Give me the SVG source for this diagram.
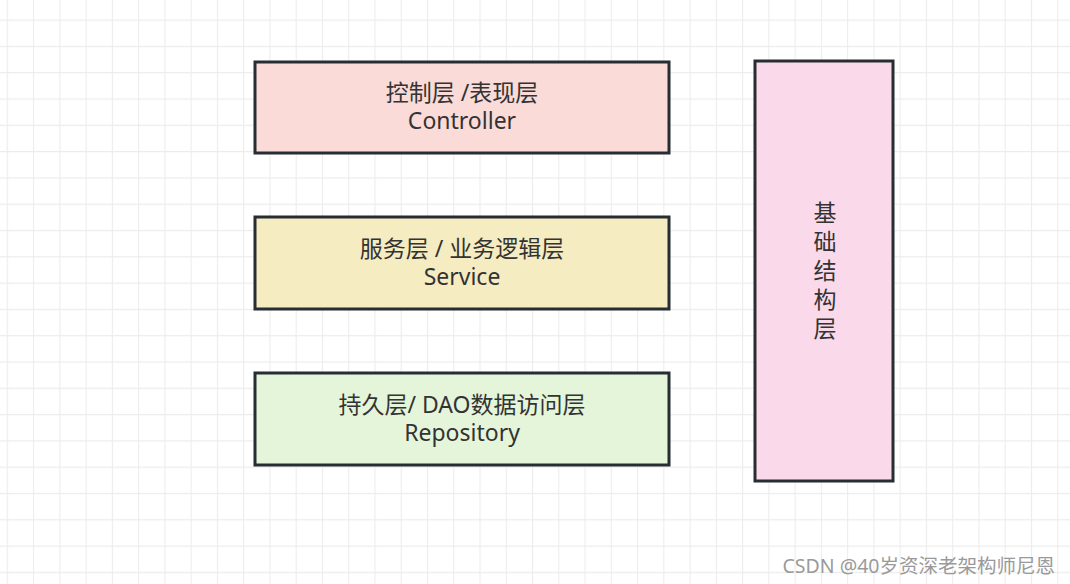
<svg xmlns="http://www.w3.org/2000/svg" width="1070" height="584" viewBox="0 0 1070 584">
<defs>
<pattern id="grid" patternUnits="userSpaceOnUse" x="6.8" y="19.5" width="26.26" height="26.3">
<path d="M0.5 0 V26.3 M0 0.5 H26.26" fill="none" stroke="#ececec" stroke-width="1.2"/>
</pattern>
</defs>
<style>
.box{stroke:#262d33;stroke-width:3;}
.lbl{font-family:"Noto Sans","Noto Sans CJK SC",sans-serif;font-size:23px;fill:#333333;text-anchor:middle;}
.wm{font-family:"Noto Sans","Noto Sans CJK SC",sans-serif;font-size:19.5px;fill:#9a9a9a;text-anchor:end;}
</style>
<rect width="1070" height="584" fill="#ffffff"/>
<rect width="1070" height="584" fill="url(#grid)"/>
<g id="controller">
<rect class="box" x="255" y="62" width="414" height="91" fill="#fadbd8"/>
<text class="lbl" x="462" y="101">控制层 /表现层</text>
<text class="lbl" x="462" y="129">Controller</text>
</g>
<g id="service">
<rect class="box" x="255" y="217" width="414" height="92" fill="#f6ecc1"/>
<text class="lbl" x="462" y="257">服务层 / 业务逻辑层</text>
<text class="lbl" x="462" y="285">Service</text>
</g>
<g id="repository">
<rect class="box" x="255" y="373" width="414" height="92" fill="#e4f5da"/>
<text class="lbl" x="462" y="413">持久层/ DAO数据访问层</text>
<text class="lbl" x="462" y="441">Repository</text>
</g>
<g id="infrastructure">
<rect class="box" x="755" y="61" width="138" height="420" fill="#fadaea"/>
<text class="lbl" x="825" y="221">基</text>
<text class="lbl" x="825" y="250">础</text>
<text class="lbl" x="825" y="279">结</text>
<text class="lbl" x="825" y="308">构</text>
<text class="lbl" x="825" y="337">层</text>
</g>
<g id="connectors"></g>
<text class="wm" x="1055" y="573">CSDN @40岁资深老架构师尼恩</text>
</svg>
